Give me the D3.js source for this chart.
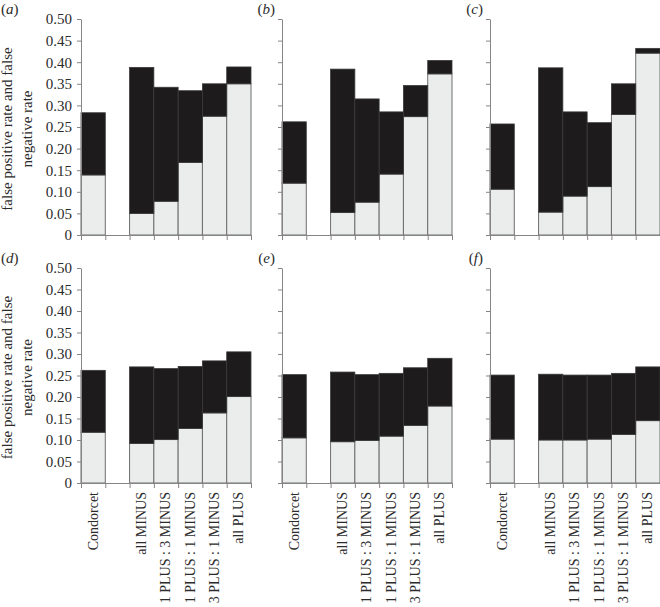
<!DOCTYPE html>
<html>
<head>
<meta charset="utf-8">
<script src="https://cdn.jsdelivr.net/npm/d3@7"></script>
<style>
  body { margin: 0; background: #fff; }
  text { font-family: "Liberation Serif", "DejaVu Serif", serif; fill: #2b2b2b; }
</style>
</head>
<body>
<script>
// slots along each x axis; the empty slot is the gap after Condorcet
var slots = ["Condorcet", "gap", "all MINUS", "1 PLUS : 3 MINUS", "1 PLUS : 1 MINUS", "3 PLUS : 1 MINUS", "all PLUS"];
var categories = ["Condorcet", "all MINUS", "1 PLUS : 3 MINUS", "1 PLUS : 1 MINUS", "3 PLUS : 1 MINUS", "all PLUS"];
var yTicks = [0, 0.05, 0.10, 0.15, 0.20, 0.25, 0.30, 0.35, 0.40, 0.45, 0.50];

// light lower part of each bar, and top of the dark part (total)
var lowerA = [0.139, 0.050, 0.078, 0.168, 0.275, 0.350];
var totalA = [0.283, 0.388, 0.342, 0.334, 0.350, 0.389];
var lowerB = [0.120, 0.052, 0.076, 0.141, 0.274, 0.373];
var totalB = [0.262, 0.384, 0.315, 0.285, 0.346, 0.404];
var lowerC = [0.106, 0.053, 0.090, 0.112, 0.279, 0.421];
var totalC = [0.257, 0.387, 0.285, 0.260, 0.350, 0.432];
var lowerD = [0.118, 0.092, 0.101, 0.127, 0.163, 0.201];
var totalD = [0.262, 0.270, 0.266, 0.271, 0.284, 0.305];
var lowerE = [0.105, 0.096, 0.099, 0.109, 0.134, 0.179];
var totalE = [0.252, 0.258, 0.252, 0.255, 0.268, 0.290];
var lowerF = [0.102, 0.100, 0.100, 0.102, 0.113, 0.145];
var totalF = [0.251, 0.253, 0.251, 0.251, 0.255, 0.270];

var svgWidth = 660, svgHeight = 607, panelWidth = 170;

var svg = d3.select("body").append("svg")
    .attr("width", svgWidth)
    .attr("height", svgHeight);

var panels = [
  {name: "a", lower: lowerA, total: totalA, left: 81,  top: 19,  bottom: 235},
  {name: "b", lower: lowerB, total: totalB, left: 282, top: 19,  bottom: 235},
  {name: "c", lower: lowerC, total: totalC, left: 490, top: 19,  bottom: 235},
  {name: "d", lower: lowerD, total: totalD, left: 81,  top: 268, bottom: 483},
  {name: "e", lower: lowerE, total: totalE, left: 282, top: 268, bottom: 483},
  {name: "f", lower: lowerF, total: totalF, left: 490, top: 268, bottom: 483}
];

panels.forEach((p, pi) => {
  var x = d3.scaleBand()
      .domain(slots)
      .range([p.left, p.left + panelWidth]);
  var xEdges = d3.scaleLinear()
      .domain([0, slots.length])
      .range([p.left, p.left + panelWidth]);
  var y = d3.scaleLinear()
      .domain([0, 0.5])
      .range([p.bottom, p.top]);

  var g = svg.append("g");

  // light part
  g.selectAll("rect.low")
    .data(categories)
    .enter()
    .append("rect")
    .attr("class", "low")
    .attr("x", (d) => x(d))
    .attr("width", x.bandwidth())
    .attr("y", (d, i) => y(p.lower[i]))
    .attr("height", (d, i) => y(0) - y(p.lower[i]))
    .attr("fill", "#ebeded")
    .attr("stroke", "#6e6e6e")
    .attr("stroke-width", 1);

  // dark part
  g.selectAll("rect.high")
    .data(categories)
    .enter()
    .append("rect")
    .attr("class", "high")
    .attr("x", (d) => x(d))
    .attr("width", x.bandwidth())
    .attr("y", (d, i) => y(p.total[i]))
    .attr("height", (d, i) => y(p.lower[i]) - y(p.total[i]))
    .attr("fill", "#1d1b1c")
    .attr("stroke", "#3a3a3a")
    .attr("stroke-width", 0.8);

  // y axis
  var yAxis = d3.axisLeft(y)
      .tickValues(yTicks)
      .tickSize(4)
      .tickSizeOuter(0)
      .tickPadding(5)
      .tickFormat((d) => {
        if (pi % 3 != 0) return "";
        return d === 0 ? "0" : d.toFixed(2);
      });
  var ya = g.append("g")
      .attr("transform", "translate(" + p.left + ",0)")
      .call(yAxis);
  ya.selectAll("path, line").attr("stroke", "#858585");
  ya.selectAll("text")
    .style("font-size", "15px")
    .attr("fill", "#2b2b2b");

  // x axis, ticks on slot edges
  var xAxis = d3.axisBottom(xEdges)
      .tickValues(d3.range(slots.length + 1))
      .tickSize(5)
      .tickSizeOuter(0)
      .tickFormat("");
  var xa = g.append("g")
      .attr("transform", "translate(0," + p.bottom + ")")
      .call(xAxis);
  xa.selectAll("path, line").attr("stroke", "#858585");

  // category labels for the bottom row
  if (pi >= 3) {
    g.selectAll("text.cat")
      .data(categories)
      .enter()
      .append("text")
      .attr("class", "cat")
      .attr("text-anchor", "end")
      .attr("dy", "0.32em")
      .attr("transform", (d) => "translate(" + (x(d) + x.bandwidth() / 2) + "," + (p.bottom + 9) + ") rotate(-90)")
      .style("font-size", "14px")
      .text((d) => d);
  }

  // panel letter
  var lab = g.append("text")
      .attr("y", p.top - 5)
      .style("font-size", "15px");
  if (pi % 3 == 0) {
    lab.attr("x", 1).attr("text-anchor", "start");
  } else {
    lab.attr("x", p.left - 7).attr("text-anchor", "end");
  }
  lab.append("tspan").text("(");
  lab.append("tspan").style("font-style", "italic").text(p.name);
  lab.append("tspan").text(")");

  // y title on the left column
  if (pi % 3 == 0) {
    var cy = (p.top + p.bottom) / 2 + 2;
    var t = g.append("text")
        .attr("text-anchor", "middle")
        .attr("transform", "translate(12," + cy + ") rotate(-90)")
        .style("font-size", "15px");
    t.append("tspan").attr("x", 0).attr("y", 0).text("false positive rate and false");
    t.append("tspan").attr("x", 0).attr("y", 20).text("negative rate");
  }
});
</script>
</body>
</html>
